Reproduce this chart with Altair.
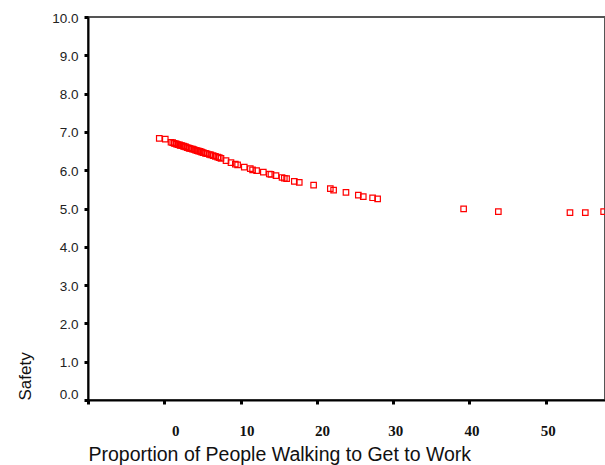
import altair as alt
import pandas as pd

# Proportion of people walking to get to work (x) vs predicted Safety (y)
walking = [
    -0.66, 0.13, 0.88, 1.1, 1.3, 1.5, 1.6, 1.8, 2.0, 2.1, 2.3, 2.5, 2.6, 2.8,
    3.0, 3.2, 3.3, 3.5, 3.7, 3.9, 4.1, 4.3, 4.5, 4.7, 4.9, 5.1, 5.4, 5.6, 5.9,
    6.1, 6.4, 6.7, 7.0, 7.2, 7.43, 8.09, 8.74, 9.31, 9.61, 10.48, 11.27, 11.57,
    12.10, 12.98, 13.76, 13.98, 14.64, 15.43, 15.73, 16.03, 17.04, 17.69, 19.57,
    21.76, 22.19, 23.81, 25.43, 26.08, 27.30, 27.96, 39.23, 43.78, 53.17, 55.18,
    57.58,
]
safety = [
    6.83, 6.81, 6.73, 6.72, 6.70, 6.69, 6.68, 6.67, 6.66, 6.65, 6.64, 6.63, 6.62,
    6.61, 6.59, 6.58, 6.57, 6.56, 6.55, 6.54, 6.52, 6.51, 6.50, 6.49, 6.47, 6.46,
    6.44, 6.43, 6.41, 6.40, 6.38, 6.36, 6.34, 6.33, 6.31, 6.25, 6.20, 6.16, 6.14,
    6.08, 6.04, 6.01, 5.99, 5.95, 5.90, 5.89, 5.86, 5.81, 5.79, 5.78, 5.71, 5.68,
    5.61, 5.52, 5.48, 5.42, 5.35, 5.31, 5.28, 5.25, 4.99, 4.92, 4.89, 4.89, 4.92,
]

x_ticks = [-10, 0, 10, 20, 30, 40, 50]
y_ticks = [0, 1, 2, 3, 4, 5, 6, 7, 8, 9, 10]

df = pd.DataFrame({"walking": walking, "safety": safety})

chart = (
    alt.Chart(df)
    .mark_point(shape="square", filled=False, color="#ff0000", size=30,
                strokeWidth=1.2, opacity=1)
    .encode(
        x=alt.X(
            "walking:Q",
            scale=alt.Scale(domain=[-10, 57.76], nice=False, zero=False),
            axis=alt.Axis(
                values=x_ticks,
                format="d",
                labelExpr="datum.value == -10 ? '' : datum.label",
                title="Proportion of People Walking to Get to Work",
                titleFont="Liberation Sans",
                titleFontSize=19.5,
                titleFontWeight="normal",
                titleColor="#111111",
                titleAnchor="start",
                titleAlign="left",
                titleBaseline="alphabetic",
                titleX=0,
                titleY=60,
                labelFont="Liberation Serif",
                labelFontWeight="bold",
                labelFontSize=15,
                labelColor="#111111",
                labelBaseline="top",
                labelPadding=19,
                labelOffset={
                    "condition": [
                        {"test": "datum.value == 0", "value": 11},
                        {"test": "datum.value == 10", "value": 6},
                        {"test": "datum.value == 20", "value": 5},
                    ],
                    "value": 2,
                },
                domainColor="#000000",
                domainWidth=2,
                tickColor="#000000",
                tickSize=4,
                tickWidth=3,
                grid=False,
                zindex=1,
            ),
        ),
        y=alt.Y(
            "safety:Q",
            scale=alt.Scale(domain=[0, 10], nice=False, zero=True),
            axis=alt.Axis(
                values=y_ticks,
                format=".1f",
                title="Safety",
                titleFont="Liberation Sans",
                titleFontSize=17,
                titleFontWeight="normal",
                titleColor="#111111",
                titleAngle=-90,
                titleAnchor="start",
                titleAlign="left",
                titleBaseline="alphabetic",
                titleX=-58,
                titleY=383,
                labelFont="Liberation Sans",
                labelFontSize=13.5,
                labelColor="#222222",
                labelPadding=6,
                labelOffset={
                    "condition": {"test": "datum.value == 0", "value": -6},
                    "value": 1,
                },
                domainColor="#000000",
                domainWidth=2,
                tickColor="#000000",
                tickSize=4,
                tickWidth=3,
                grid=False,
                zindex=1,
            ),
        ),
    )
    .properties(
        width=517,
        height=383,
        padding={"left": 88, "top": 17, "right": 0, "bottom": 65},
        autosize=alt.AutoSizeParams(type="none"),
        background="#ffffff",
    )
    .configure_view(stroke="#555555", strokeWidth=2)
)

chart.save("out.html", embed_options={"renderer": "svg", "actions": False})
